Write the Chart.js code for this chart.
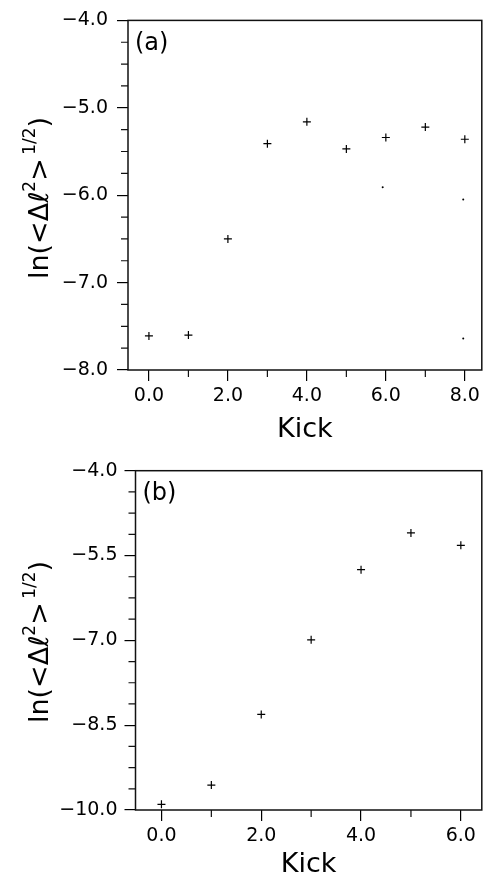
<!DOCTYPE html>
<html>
<head>
<meta charset="utf-8">
<script src="https://cdn.jsdelivr.net/npm/chart.js@4"></script>
<style>
  html, body { margin: 0; padding: 0; background: #fff; }
  canvas { position: absolute; left: 0; }
  #chartA { top: 0; }
  #chartB { top: 440px; }
</style>
</head>
<body>
<canvas id="chartA" width="487" height="440"></canvas>
<canvas id="chartB" width="487" height="437"></canvas>
<script>
// painel (a)
const kicksA = [0, 1, 2, 3, 4, 5, 6, 7, 8];
const valoresA = [-7.61, -7.60, -6.50, -5.41, -5.16, -5.47, -5.34, -5.22, -5.36];
const pontosXA = [5.92, 7.96, 7.96]; // pontinhos soltos
const pontosYA = [-5.91, -6.05, -7.64];
const xTicksA = [0, 2, 4, 6, 8];
const xMinorA = [1, 3, 5, 7];
const yTicksA = [-4, -5, -6, -7, -8];
const yMinorA = [-4.25, -4.5, -4.75, -5.25, -5.5, -5.75, -6.25, -6.5, -6.75, -7.25, -7.5, -7.75];

// painel (b)
const kicksB = [0, 1, 2, 3, 4, 5, 6];
const valoresB = [-9.90, -9.56, -8.31, -6.99, -5.75, -5.10, -5.32];
const xTicksB = [0, 2, 4, 6];
const xMinorB = [1, 3, 5];
const yTicksB = [-4, -5.5, -7, -8.5, -10];
const yMinorB = [-4.375, -4.75, -5.125, -5.875, -6.25, -6.625, -7.375, -7.75, -8.125, -8.875, -9.25, -9.625];

const fonte = '"DejaVu Sans", sans-serif';
const fmt = v => (v < 0 ? '\u2212' : '') + Math.abs(v).toFixed(1);

// caixa, ticks menores e textos
const moldura = {
    id: 'moldura',
    afterDraw(chart, args, o) {
        const { ctx, chartArea: a, scales: { x, y } } = chart;
        ctx.save();
        ctx.strokeStyle = '#111';
        ctx.lineWidth = 1.5;
        ctx.strokeRect(a.left, a.top, a.right - a.left, a.bottom - a.top);

        ctx.lineWidth = 1.2;
        ctx.beginPath();
        o.xMinor.forEach(v => {
            const px = x.getPixelForValue(v);
            ctx.moveTo(px, a.bottom);
            ctx.lineTo(px, a.bottom + 7);
        });
        o.yMinor.forEach(v => {
            const py = y.getPixelForValue(v);
            ctx.moveTo(a.left, py);
            ctx.lineTo(a.left - 7, py);
        });
        ctx.stroke();

        ctx.fillStyle = '#000';
        ctx.textBaseline = 'middle';
        ctx.textAlign = 'center';
        ctx.font = '27px ' + fonte;
        ctx.fillText('Kick', (a.left + a.right) / 2, o.kickY);

        ctx.textAlign = 'left';
        ctx.font = '24px ' + fonte;
        ctx.fillText(o.painel, a.left + 7, a.top + 23);

        // titulo do eixo y com expoentes
        const partes = [
            { t: 'ln(<\u0394\u2113', sup: false },
            { t: '2', sup: true },
            { t: '>', sup: false },
            { t: '\u20091/2', sup: true },
            { t: ')', sup: false }
        ];
        const fN = '27px ' + fonte, fS = '17px ' + fonte;
        let w = 0;
        partes.forEach(p => { ctx.font = p.sup ? fS : fN; p.w = ctx.measureText(p.t).width; w += p.w; });
        ctx.translate(o.tituloX, o.tituloY);
        ctx.rotate(-Math.PI / 2);
        ctx.textBaseline = 'alphabetic';
        let cx = -w / 2;
        partes.forEach(p => {
            ctx.font = p.sup ? fS : fN;
            ctx.fillText(p.t, cx, p.sup ? -13 : 0);
            cx += p.w;
        });
        ctx.restore();
    }
};

function criarGrafico(id, c) {
    const ctx = document.getElementById(id).getContext('2d');
    const datasets = [{
        data: c.kicks.map((k, i) => ({ x: k, y: c.valores[i] })),
        pointStyle: 'cross',
        pointRadius: 4,
        pointHoverRadius: 4,
        borderColor: '#000',
        borderWidth: 1.2
    }];
    if (c.pontosX) {
        datasets.push({
            data: c.pontosX.map((k, i) => ({ x: k, y: c.pontosY[i] })),
            pointStyle: 'circle',
            pointRadius: 1,
            pointHoverRadius: 1,
            backgroundColor: '#000',
            borderWidth: 0
        });
    }
    const eixo = (ticks, pad) => ({
        type: 'linear',
        afterBuildTicks: s => { s.ticks = ticks.map(v => ({ value: v })); },
        grid: { drawOnChartArea: false, drawTicks: true, tickLength: 11, color: '#000', lineWidth: 1.2 },
        border: { display: false },
        ticks: {
            autoSkip: false, maxRotation: 0, padding: pad, color: '#000',
            font: { family: fonte, size: 19 },
            callback: fmt
        }
    });
    const x = Object.assign(eixo(c.xTicks, 4), { min: c.xMin, max: c.xMax, afterFit: s => { s.height = c.xAltura; } });
    const y = Object.assign(eixo(c.yTicks, c.yPad), { min: c.yMin, max: c.yMax, afterFit: s => { s.width = c.yLargura; } });
    return new Chart(ctx, {
        type: 'scatter',
        data: { datasets },
        options: {
            responsive: false,
            animation: false,
            events: [],
            layout: { padding: { top: c.topo, right: c.direita, left: 0, bottom: 0 } },
            plugins: {
                legend: { display: false },
                tooltip: { enabled: false },
                moldura: { xMinor: c.xMinor, yMinor: c.yMinor, painel: c.painel, kickY: c.kickY, tituloX: 48, tituloY: c.tituloY }
            },
            scales: { x, y }
        },
        plugins: [moldura]
    });
}

criarGrafico('chartA', {
    kicks: kicksA, valores: valoresA, pontosX: pontosXA, pontosY: pontosYA,
    xTicks: xTicksA, xMinor: xMinorA, yTicks: yTicksA, yMinor: yMinorA,
    xMin: -0.53, xMax: 8.43, yMin: -8, yMax: -4,
    topo: 15, direita: 2.5, yLargura: 128, xAltura: 70, yPad: 9,
    painel: '(a)', kickY: 430, tituloY: 198
});

criarGrafico('chartB', {
    kicks: kicksB, valores: valoresB,
    xTicks: xTicksB, xMinor: xMinorB, yTicks: yTicksB, yMinor: yMinorB,
    xMin: -0.52, xMax: 6.42, yMin: -10, yMax: -4,
    topo: 30.7, direita: 4.3, yLargura: 135.5, xAltura: 67, yPad: 7,
    painel: '(b)', kickY: 425, tituloY: 202
});
</script>
</body>
</html>
